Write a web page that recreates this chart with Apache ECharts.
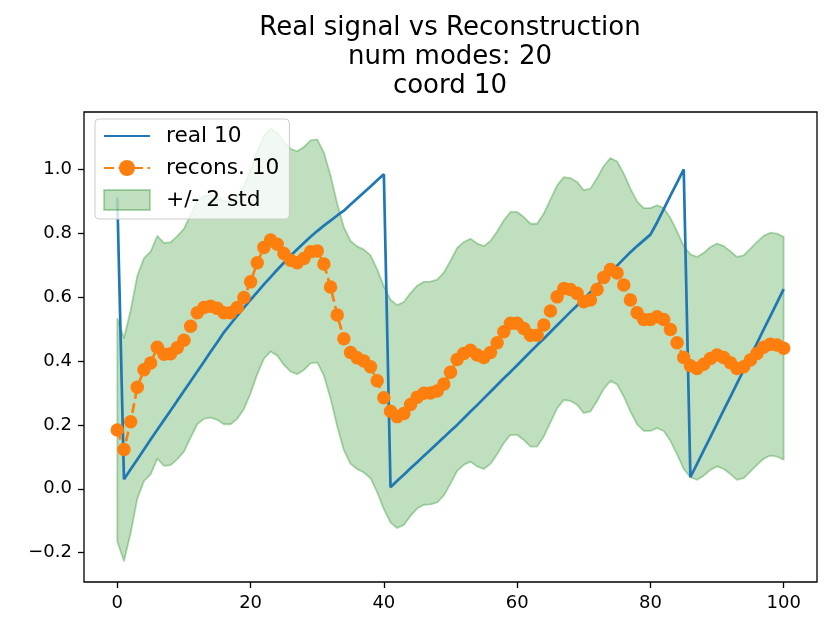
<!DOCTYPE html>
<html>
<head>
<meta charset="utf-8">
<script src="https://cdn.jsdelivr.net/npm/echarts@6/dist/echarts.min.js"></script>
<style>
html,body{margin:0;padding:0;background:#fff;}
#chart{width:832px;height:635px;}
</style>
</head>
<body>
<div id="chart"></div>
<script>
// ---- data ----
var xTicks = [0, 20, 40, 60, 80, 100];
var yTicks = [-0.2, 0.0, 0.2, 0.4, 0.6, 0.8, 1.0];

var real = [
0.912,0.030,0.061,0.092,0.123,0.154,0.185,0.215,0.245,0.276,
0.306,0.337,0.367,0.398,0.429,0.459,0.490,0.516,0.542,0.567,
0.592,0.616,0.640,0.663,0.686,0.708,0.730,0.750,0.770,0.789,
0.807,0.824,0.840,0.856,0.871,0.890,0.909,0.928,0.947,0.966,
0.985,0.005,0.025,0.044,0.064,0.083,0.103,0.122,0.142,0.161,
0.181,0.200,0.221,0.242,0.262,0.283,0.304,0.325,0.346,0.366,
0.387,0.408,0.429,0.450,0.470,0.491,0.512,0.533,0.554,0.574,
0.595,0.616,0.637,0.658,0.678,0.699,0.720,0.741,0.760,0.778,
0.796,0.834,0.876,0.918,0.959,1.000,0.036,0.078,0.120,0.162,
0.204,0.246,0.288,0.330,0.372,0.414,0.456,0.499,0.541,0.583,
0.625];

var recons = [
0.184,0.123,0.210,0.318,0.373,0.394,0.443,0.421,0.423,0.442,
0.465,0.509,0.551,0.568,0.572,0.565,0.551,0.551,0.568,0.599,
0.648,0.708,0.756,0.779,0.766,0.737,0.716,0.708,0.721,0.742,
0.745,0.704,0.632,0.544,0.470,0.427,0.410,0.400,0.382,0.338,
0.285,0.243,0.226,0.236,0.264,0.287,0.299,0.300,0.306,0.328,
0.365,0.405,0.424,0.434,0.419,0.411,0.427,0.457,0.492,0.518,
0.518,0.502,0.481,0.481,0.513,0.557,0.601,0.627,0.624,0.612,
0.586,0.591,0.624,0.662,0.687,0.676,0.638,0.591,0.551,0.530,
0.530,0.539,0.530,0.499,0.457,0.411,0.385,0.377,0.390,0.408,
0.419,0.411,0.395,0.377,0.382,0.403,0.424,0.443,0.453,0.450,
0.440];

var upper = [
0.533,0.472,0.559,0.667,0.722,0.743,0.792,0.770,0.772,0.791,
0.814,0.858,0.900,0.917,0.921,0.914,0.900,0.900,0.917,0.948,
0.997,1.057,1.105,1.128,1.115,1.086,1.065,1.057,1.070,1.091,
1.094,1.053,0.981,0.893,0.819,0.776,0.759,0.749,0.731,0.687,
0.634,0.592,0.575,0.585,0.613,0.636,0.648,0.649,0.655,0.677,
0.714,0.754,0.773,0.783,0.768,0.760,0.776,0.806,0.841,0.867,
0.867,0.851,0.830,0.830,0.862,0.906,0.950,0.976,0.973,0.961,
0.935,0.940,0.973,1.011,1.036,1.025,0.987,0.940,0.900,0.879,
0.879,0.888,0.879,0.848,0.806,0.760,0.734,0.726,0.739,0.757,
0.768,0.760,0.744,0.726,0.731,0.752,0.773,0.792,0.802,0.799,
0.789];

var lower = [
-0.165,-0.226,-0.139,-0.031,0.024,0.045,0.094,0.072,0.074,0.093,
0.116,0.160,0.202,0.219,0.223,0.216,0.202,0.202,0.219,0.250,
0.299,0.359,0.407,0.430,0.417,0.388,0.367,0.359,0.372,0.393,
0.396,0.355,0.283,0.195,0.121,0.078,0.061,0.051,0.033,-0.011,
-0.064,-0.106,-0.123,-0.113,-0.085,-0.062,-0.050,-0.049,-0.043,-0.021,
0.016,0.056,0.075,0.085,0.070,0.062,0.078,0.108,0.143,0.169,
0.169,0.153,0.132,0.132,0.164,0.208,0.252,0.278,0.275,0.263,
0.237,0.242,0.275,0.313,0.338,0.327,0.289,0.242,0.202,0.181,
0.181,0.190,0.181,0.150,0.108,0.062,0.036,0.028,0.041,0.059,
0.070,0.062,0.046,0.028,0.033,0.054,0.075,0.094,0.104,0.101,
0.091];

// ---- build series data ----
function pairs(arr){ return arr.map(function(v,i){ return [i, v]; }); }
var bandData = lower.map(function(l,i){ return [i, l, upper[i]]; });

var FONT = 'DejaVu Sans';
var BLUE = '#1f77b4', ORANGE = '#ff7f0e';
var FILL = 'rgba(0,128,0,0.25)', EDGE = 'rgba(0,128,0,0.3)';

var chart = echarts.init(document.getElementById('chart'), null, {renderer:'canvas'});
chart.setOption({
  animation: false,
  backgroundColor: '#fff',
  textStyle: {fontFamily: FONT, color: '#000'},
  title: {
    text: 'Real signal vs Reconstruction\nnum modes: 20\ncoord 10',
    left: 445, top: 9, textAlign: 'center',
    textStyle: {fontFamily: FONT, fontSize: 26, fontWeight: 'normal', color: '#000', lineHeight: 29}
  },
  grid: {left: 84, right: 15, top: 112, bottom: 53, show: true, borderColor: '#000', borderWidth: 1.3, containLabel: false},
  legend: {
    orient: 'vertical', left: 95, top: 119, z: 20,
    padding: [6, 10, 8, 8],
    itemWidth: 46, itemHeight: 20, itemGap: 10,
    backgroundColor: 'rgba(255,255,255,0.8)', borderColor: '#cccccc', borderWidth: 1, borderRadius: 4,
    textStyle: {fontFamily: FONT, fontSize: 21.7, color: '#000', padding: [0,0,0,11]},
    data: [
      {name: 'real 10', itemStyle: {opacity: 0}},
      {name: 'recons. 10'},
      {name: '+/- 2 std', icon: 'rect', itemStyle: {color: FILL, borderColor: 'rgba(0,128,0,0.3)', borderWidth: 1.8}}
    ]
  },
  xAxis: {
    type: 'value', min: -5, max: 105,
    axisLine: {show: false, onZero: false},
    splitLine: {show: false},
    axisTick: {show: true, length: 6, lineStyle: {color: '#000', width: 1.3}, customValues: xTicks},
    axisLabel: {margin: 12, fontFamily: FONT, fontSize: 18, color: '#000', customValues: xTicks}
  },
  yAxis: {
    type: 'value', min: -0.292, max: 1.18,
    axisLine: {show: false, onZero: false},
    splitLine: {show: false},
    axisTick: {show: true, length: 6, lineStyle: {color: '#000', width: 1.3}, customValues: yTicks},
    axisLabel: {margin: 12, fontFamily: FONT, fontSize: 18, color: '#000', customValues: yTicks,
      formatter: function(v){ return (v < -1e-9 ? '\u2212' : '') + Math.abs(v).toFixed(1); }}
  },
  series: [
    {
      name: '+/- 2 std', type: 'custom', coordinateSystem: 'cartesian2d',
      data: bandData, z: 1, silent: true,
      encode: {x: 0, y: [1, 2]},
      itemStyle: {color: FILL, borderColor: EDGE, borderWidth: 1.8},
      renderItem: function(params, api){
        if (params.dataIndex !== 0) return null;
        var pts = [], i;
        for (i = 0; i < upper.length; i++) pts.push(api.coord([i, upper[i]]));
        for (i = lower.length - 1; i >= 0; i--) pts.push(api.coord([i, lower[i]]));
        return {type: 'polygon', shape: {points: pts}, silent: true,
          style: {fill: FILL, stroke: EDGE, lineWidth: 1.8, lineJoin: 'round'}};
      }
    },
    {
      name: 'real 10', type: 'line', data: pairs(real), symbol: 'none', z: 3,
      itemStyle: {color: BLUE},
      lineStyle: {color: BLUE, width: 2.7}
    },
    {
      name: 'recons. 10', type: 'line', data: pairs(recons), z: 4,
      symbol: 'circle', symbolSize: 13.5, showSymbol: true,
      itemStyle: {color: ORANGE},
      lineStyle: {color: ORANGE, width: 2.7, type: [10, 4.5]}
    }
  ]
});
</script>
</body>
</html>
